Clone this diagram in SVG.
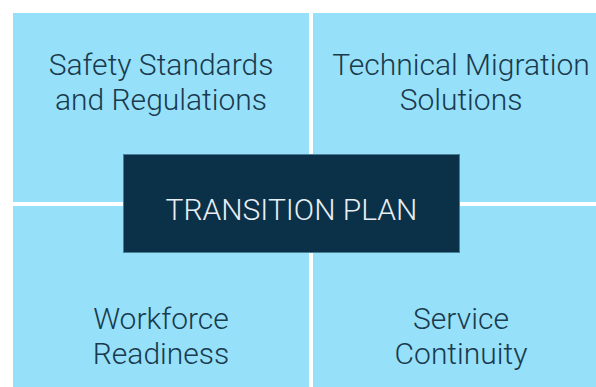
<svg xmlns="http://www.w3.org/2000/svg" width="596" height="387" viewBox="0 0 596 387">
<style>
.quad{fill:#96e1f9}
.qt{font-family:Roboto,"Liberation Sans",sans-serif;font-weight:300;font-size:30px;fill:#1a3a4e;text-anchor:middle}
.ct{font-family:Roboto,"Liberation Sans",sans-serif;font-weight:300;font-size:30px;fill:#e9eef2;text-anchor:middle}
</style>
<rect x="0" y="0" width="596" height="387" fill="#ffffff"/>
<g id="safety">
<rect class="quad" x="13" y="13" width="296" height="189"/>
<text class="qt" x="161" y="75">Safety Standards</text>
<text class="qt" x="161" y="110">and Regulations</text>
</g>
<g id="technical">
<rect class="quad" x="313" y="13" width="296" height="189"/>
<text class="qt" x="461" y="75">Technical Migration</text>
<text class="qt" x="461" y="110">Solutions</text>
</g>
<g id="workforce">
<rect class="quad" x="13" y="206" width="296" height="190"/>
<text class="qt" x="161" y="329">Workforce</text>
<text class="qt" x="161" y="364">Readiness</text>
</g>
<g id="service">
<rect class="quad" x="313" y="206" width="296" height="190"/>
<text class="qt" x="461" y="329">Service</text>
<text class="qt" x="461" y="364">Continuity</text>
</g>
<g id="connectors"></g>
<g id="transition-plan">
<rect x="123.5" y="154.5" width="336" height="98" fill="#0b3149" stroke="#4a7f98" stroke-width="1"/>
<text class="ct" x="291.5" y="220">TRANSITION PLAN</text>
</g>
</svg>
